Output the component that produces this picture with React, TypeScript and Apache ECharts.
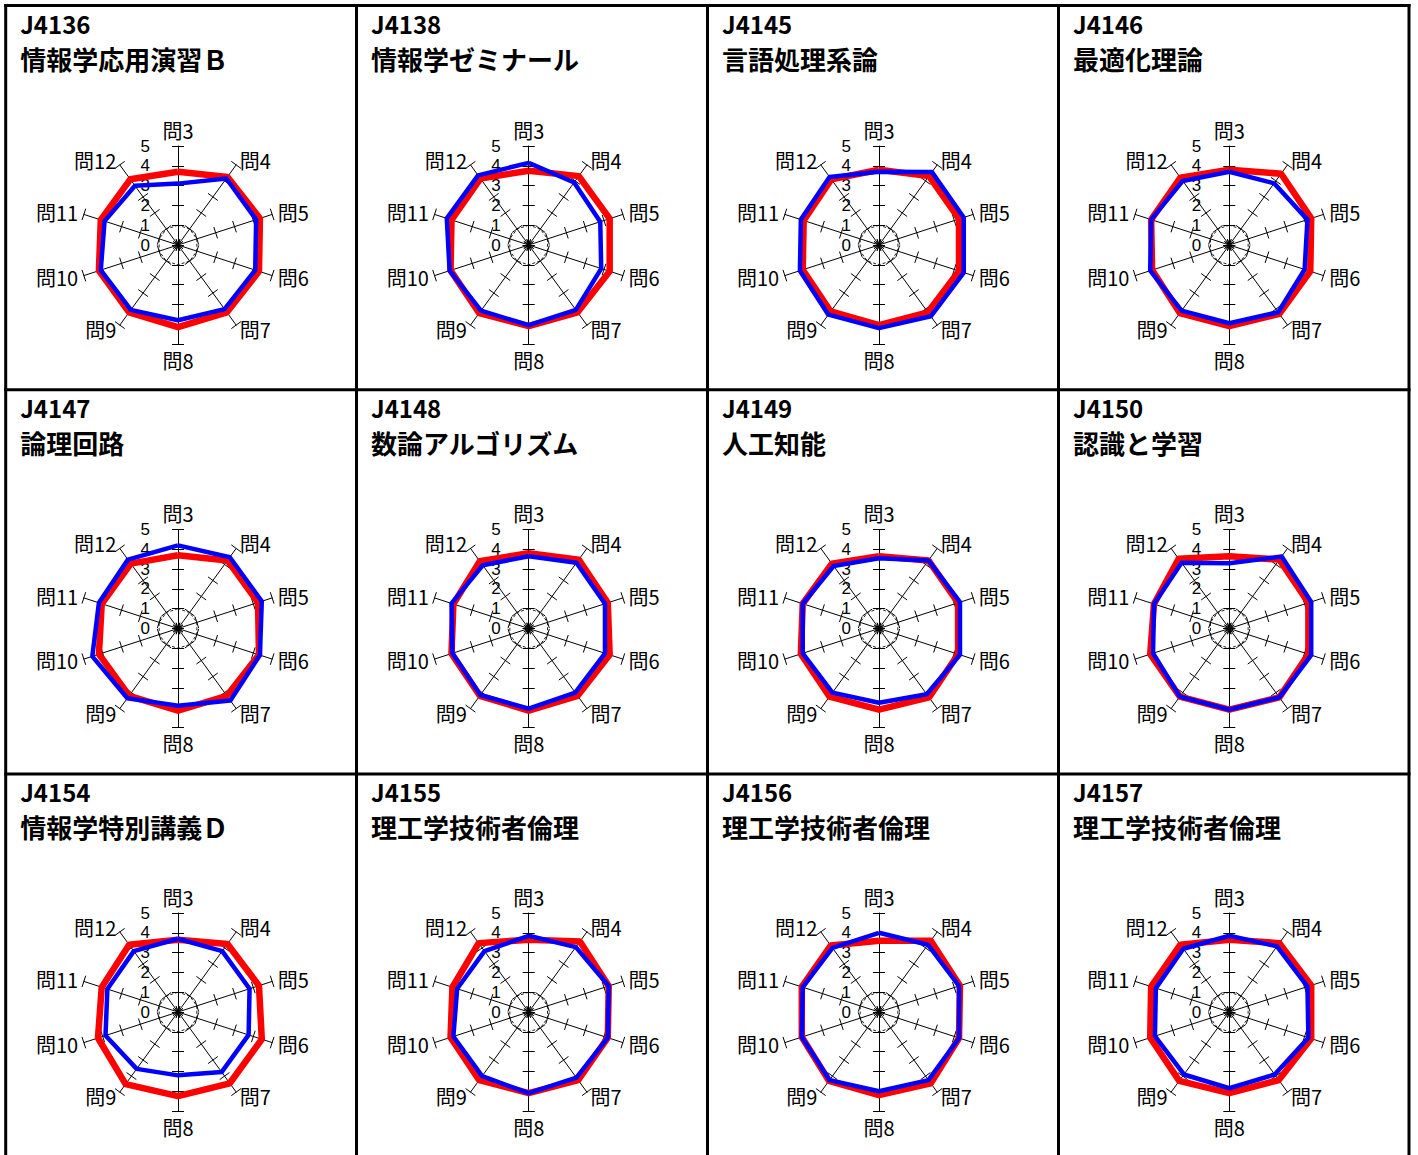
import React, { useEffect, useRef } from "react";
import * as echarts from "echarts";

// ---- data ----
const questions = ["問3", "問4", "問5", "問6", "問7", "問8", "問9", "問10", "問11", "問12"];
const scaleMin = 0;
const scaleMax = 5;

const courseCodes = ["J4136", "J4138", "J4145", "J4146", "J4147", "J4148", "J4149", "J4150", "J4154", "J4155", "J4156", "J4157"];
const courseNames = [
  "情報学応用演習Ｂ",
  "情報学ゼミナール",
  "言語処理系論",
  "最適化理論",
  "論理回路",
  "数論アルゴリズム",
  "人工知能",
  "認識と学習",
  "情報学特別講義Ｄ",
  "理工学技術者倫理",
  "理工学技術者倫理",
  "理工学技術者倫理",
];

// values in order 問3 .. 問12
const red4136 = [3.7, 4.25, 4.35, 4.3, 4.2, 4.15, 4.2, 4.2, 4.1, 4.1];
const blue4136 = [3.1, 4.15, 4.15, 4.1, 4.0, 3.8, 4.05, 4.1, 3.9, 3.7];
const red4138 = [3.75, 4.3, 4.3, 4.3, 4.2, 4.1, 4.25, 4.15, 4.1, 4.15];
const blue4138 = [4.15, 3.9, 3.8, 3.85, 4.05, 4.05, 4.1, 4.2, 4.35, 4.35];
const red4145 = [3.8, 4.3, 4.25, 4.25, 4.2, 4.05, 4.15, 4.05, 4.0, 4.1];
const blue4145 = [3.7, 4.55, 4.5, 4.5, 4.45, 4.2, 4.35, 4.2, 4.15, 4.25];
const red4146 = [3.8, 4.45, 4.35, 4.3, 4.3, 4.1, 4.25, 4.1, 4.15, 4.2];
const blue4146 = [3.7, 3.85, 4.15, 4.0, 4.2, 3.95, 4.1, 4.2, 4.15, 4.0];
const red4147 = [3.7, 4.25, 4.25, 4.3, 4.2, 4.15, 4.2, 4.2, 4.05, 4.05];
const blue4147 = [4.2, 4.45, 4.45, 4.35, 4.5, 3.9, 4.35, 4.55, 4.2, 4.3];
const red4148 = [3.8, 4.3, 4.2, 4.3, 4.2, 4.15, 4.2, 4.1, 4.0, 4.2];
const blue4148 = [3.65, 4.1, 4.05, 4.05, 4.0, 4.05, 4.15, 4.05, 4.1, 3.95];
const red4149 = [3.65, 4.25, 4.2, 4.2, 4.3, 4.1, 4.25, 4.15, 4.05, 4.05];
const blue4149 = [3.55, 4.25, 4.3, 4.3, 4.1, 3.75, 4.0, 4.05, 4.05, 3.9];
const red4150 = [3.65, 4.3, 4.2, 4.2, 4.3, 4.1, 4.25, 4.2, 4.0, 4.35];
const blue4150 = [3.3, 4.5, 4.35, 4.35, 4.3, 4.1, 4.25, 4.05, 4.0, 4.1];
const red4154 = [3.65, 4.25, 4.3, 4.45, 4.45, 4.25, 4.5, 4.25, 4.05, 4.2];
const blue4154 = [3.7, 3.8, 3.8, 3.75, 3.75, 3.2, 3.55, 3.85, 3.75, 3.8];
const red4155 = [3.65, 4.4, 4.25, 4.2, 4.25, 4.1, 4.25, 4.15, 4.05, 4.3];
const blue4155 = [3.85, 4.05, 4.25, 4.2, 4.1, 4.1, 4.0, 4.0, 3.8, 3.8];
const red4156 = [3.6, 4.45, 4.3, 4.25, 4.45, 4.2, 4.3, 4.1, 4.1, 4.15];
const blue4156 = [4.0, 4.2, 4.25, 4.25, 4.25, 4.0, 4.25, 4.1, 4.05, 4.0];
const red4157 = [3.65, 4.3, 4.35, 4.35, 4.25, 4.1, 4.3, 4.2, 4.15, 4.2];
const blue4157 = [3.85, 4.1, 4.15, 4.2, 3.9, 3.85, 3.9, 3.95, 3.9, 3.95];

const redValues = [red4136, red4138, red4145, red4146, red4147, red4148, red4149, red4150, red4154, red4155, red4156, red4157];
const blueValues = [blue4136, blue4138, blue4145, blue4146, blue4147, blue4148, blue4149, blue4150, blue4154, blue4155, blue4156, blue4157];

// ---- layout ----
const W = 1418;
const H = 1155;
const colLines = [5.7, 356.5, 707.5, 1058.5, 1409];
const rowLines = [5.5, 389.7, 774, 1158];
const centersX = [178, 528.7, 879, 1229.3];
const centersY = [245, 628.5, 1012];
const RADIUS = 99;
const FONT = "'Noto Sans CJK JP', 'Noto Sans', sans-serif";
const NUM_FONT = "'Liberation Sans', Arial, sans-serif";

// radar goes counter-clockwise; questions go clockwise -> reorder
const order = [0, 9, 8, 7, 6, 5, 4, 3, 2, 1];

function buildOption() {
  const radar: any[] = [];
  const series: any[] = [];
  const graphic: any[] = [];

  courseCodes.forEach((code, i) => {
    const col = i % 4;
    const row = Math.floor(i / 4);
    const cx = centersX[col];
    const cy = centersY[row];

    const indicatorMain = order.map((qi, k) => ({
      name: questions[qi],
      min: scaleMin,
      max: scaleMax,
      axisLabel: { show: k === 0 },
    }));
    radar.push({
      center: [cx, cy],
      radius: RADIUS,
      startAngle: 90,
      splitNumber: 5,
      shape: "polygon",
      indicator: indicatorMain,
      axisName: { show: true, color: "#000", fontSize: 20, fontFamily: FONT },
      axisNameGap: 6,
      nameGap: 6,
      axisLine: { show: true, lineStyle: { color: "#000", width: 1 } },
      axisTick: { show: true, length: 6, lineStyle: { color: "#000", width: 1 } },
      axisLabel: { show: false, color: "#000", fontSize: 17, lineHeight: 17, fontFamily: NUM_FONT, margin: 28 },
      splitLine: {
        show: true,
        lineStyle: {
          color: ["rgba(0,0,0,0)", "#222", "rgba(0,0,0,0)", "rgba(0,0,0,0)", "rgba(0,0,0,0)", "rgba(0,0,0,0)"],
          width: 1,
          type: [3, 2],
        },
      },
      splitArea: { show: false },
    });
    const mainIndex = radar.length - 1;

    radar.push({
      center: [cx, cy],
      radius: RADIUS,
      startAngle: 90,
      splitNumber: 5,
      shape: "polygon",
      indicator: order.map(() => ({ name: "", min: scaleMin, max: scaleMax })),
      axisName: { show: false },
      axisLine: { show: false },
      axisTick: { show: true, length: -6, lineStyle: { color: "#000", width: 1 } },
      axisLabel: { show: false },
      splitLine: { show: false },
      splitArea: { show: false },
    });

    series.push({
      type: "radar",
      radarIndex: mainIndex,
      symbol: "none",
      silent: true,
      z: 3,
      lineStyle: { color: "#ff0000", width: 6.5 },
      data: [{ name: code + " A", value: order.map((qi) => redValues[i][qi]) }],
    });
    series.push({
      type: "radar",
      radarIndex: mainIndex,
      symbol: "none",
      silent: true,
      z: 4,
      lineStyle: { color: "#0000ff", width: 4.5 },
      data: [{ name: code + " B", value: order.map((qi) => blueValues[i][qi]) }],
    });

    const left = colLines[col] + 14.5;
    const top = rowLines[row];
    graphic.push({
      type: "text",
      x: left,
      y: top + 17.5,
      style: {
        text: code,
        font: `bold 24px ${FONT}`,
        fill: "#000",
        align: "left",
        verticalAlign: "middle",
        textAlign: "left",
        textVerticalAlign: "middle",
      },
    });
    graphic.push({
      type: "text",
      x: left,
      y: top + 52.5,
      style: {
        text: courseNames[i],
        font: `bold 26px ${FONT}`,
        fill: "#000",
        align: "left",
        verticalAlign: "middle",
        textAlign: "left",
        textVerticalAlign: "middle",
      },
    });
  });

  colLines.forEach((x) => {
    graphic.push({
      type: "line",
      shape: { x1: x, y1: rowLines[0] - 1.5, x2: x, y2: H + 10 },
      style: { stroke: "#000", lineWidth: 3 },
    });
  });
  rowLines.forEach((y) => {
    graphic.push({
      type: "line",
      shape: { x1: colLines[0] - 1.5, y1: y, x2: colLines[4] + 1.5, y2: y },
      style: { stroke: "#000", lineWidth: 3 },
    });
  });

  return {
    animation: false,
    backgroundColor: "#fff",
    radar,
    series,
    graphic,
  };
}

export default function App() {
  const ref = useRef<HTMLDivElement>(null);
  useEffect(() => {
    document.body.style.margin = "0";
    document.body.style.overflow = "hidden";
    if (!ref.current) return;
    const chart = echarts.init(ref.current, undefined, { renderer: "svg" });
    chart.setOption(buildOption() as any);
    return () => chart.dispose();
  }, []);
  return <div ref={ref} style={{ width: W, height: H }} />;
}
